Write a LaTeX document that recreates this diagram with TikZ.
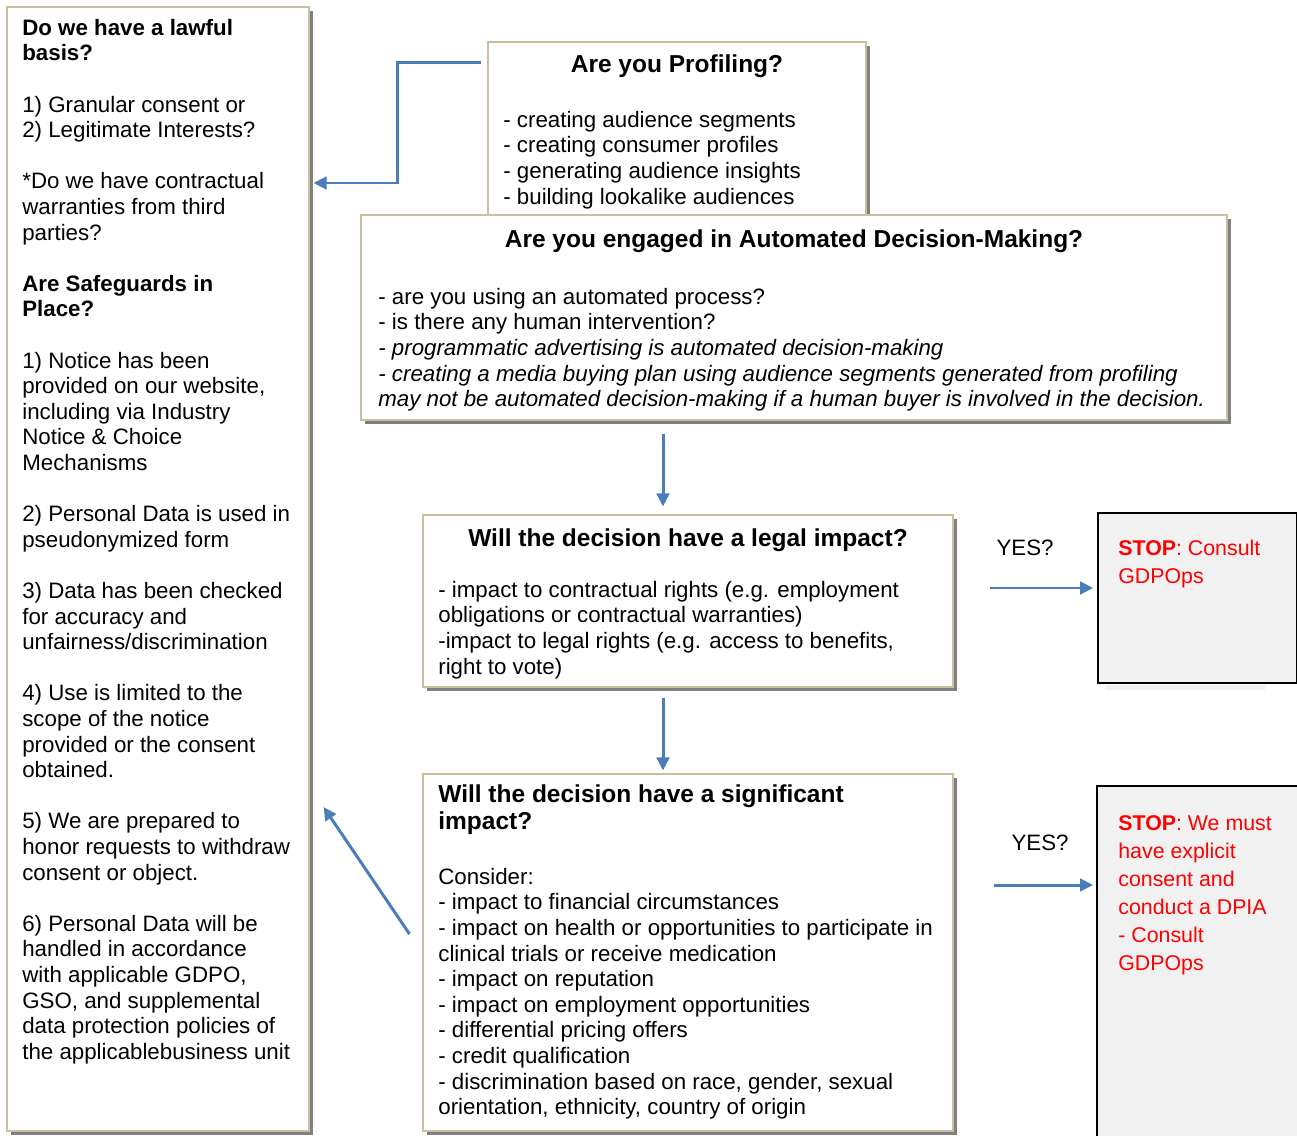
\documentclass[tikz,border=0pt]{standalone}
\usepackage{fontspec}
\setmainfont{Liberation Sans}
\usetikzlibrary{arrows.meta,fit,shadows}
\definecolor{boxline}{RGB}{201,193,158}
\definecolor{shade}{RGB}{128,128,128}
\definecolor{flowblue}{RGB}{74,126,187}
\definecolor{stopfill}{RGB}{241,241,241}
\newcommand\bodysize{\fontsize{12.69pt}{14.57pt}\selectfont}
\newcommand\headsize{\fontsize{13.94pt}{15.4pt}\selectfont}
\newcommand\stopsize{\fontsize{12.15pt}{16pt}\selectfont}
\tikzset{
  box/.style={draw=boxline, fill=white, line width=0.6pt, inner sep=0pt,
    drop shadow={shadow xshift=0.08cm, shadow yshift=-0.08cm, opacity=1, fill=shade}},
  stopbox/.style={draw=black, fill=stopfill, line width=1pt, inner sep=0pt},
  txt/.style={font=\bodysize, align=left, inner sep=0pt, anchor=north west},
  head/.style={font=\headsize\bfseries, inner sep=0pt, anchor=base},
  stoptxt/.style={txt, font=\stopsize, text=red},
  flow/.style={draw=flowblue, line width=1.7pt, -{Triangle[length=0.26cm,width=0.25cm]}}
}
\begin{document}
\begin{tikzpicture}[x=0.02cm, y=-0.02cm]
    \useasboundingbox (0,0) rectangle (1297,1135);

    \node[box, fit={(7,7) (309,1131)}]      (law) {};
    \node[box, fit={(488,42) (866,260)}]    (prof) {};
    \node[box, fit={(361,215) (1227,420)}]  (adm) {};
    \node[box, fit={(423,515) (953,687)}]   (legal) {};
    \node[box, fit={(423,774) (953,1131)}]  (sig) {};
    \fill[stopfill] (1105,685) rectangle (1265,690);
    \node[stopbox, fit={(1098,513) (1297,683)}] (stopa) {};
    \node[stopbox, fit={(1097,786) (1299,1145)}] (stopb) {};

    \node[txt] (lawtxt) at (22,17) {\strut\textbf{Do we have a lawful}\\\textbf{basis?}\\[\baselineskip]
        1) Granular consent or\\2) Legitimate Interests?\\[\baselineskip]
        *Do we have contractual\\warranties from third\\parties?\\[\baselineskip]
        \textbf{Are Safeguards in}\\\textbf{Place?}\\[\baselineskip]
        1) Notice has been\\provided on our website,\\including via Industry\\Notice \& Choice\\Mechanisms\\[\baselineskip]
        2) Personal Data is used in\\pseudonymized form\\[\baselineskip]
        3) Data has been checked\\for accuracy and\\unfairness/discrimination\\[\baselineskip]
        4) Use is limited to the\\scope of the notice\\provided or the consent\\obtained.\\[\baselineskip]
        5) We are prepared to\\honor requests to withdraw\\consent or object.\\[\baselineskip]
        6) Personal Data will be\\handled in accordance\\with applicable GDPO,\\GSO, and supplemental\\data protection policies of\\the applicablebusiness unit};

    \node[head] (proftitle) at (677,73) {Are you Profiling?};
    \node[txt] (proftxt) at (503,109) {\strut- creating audience segments\\- creating consumer profiles\\
        - generating audience insights\\- building lookalike audiences};

    \node[head] (admtitle) at (794,247) {Are you engaged in Automated Decision-Making?};
    \node[txt] (admtxt) at (378,286) {\strut- are you using an automated process?\\- is there any human intervention?\\
        \textit{- programmatic advertising is automated decision-making}\\
        \textit{- creating a media buying plan using audience segments generated from profiling}\\
        \textit{may not be automated decision-making if a human buyer is involved in the decision.}};

    \node[head] (legaltitle) at (688,546) {Will the decision have a legal impact?};
    \node[txt] (legaltxt) at (438,579) {\strut- impact to contractual rights (e.g. employment\\
        obligations or contractual warranties)\\-impact to legal rights (e.g. access to benefits,\\right to vote)};

    \node[txt, font=\headsize\bfseries] (sigtitle) at (438,783) {\strut Will the decision have a significant\\impact?};
    \node[txt] (sigtxt) at (438,866) {\strut Consider:\\- impact to financial circumstances\\
        - impact on health or opportunities to participate in\\clinical trials or receive medication\\
        - impact on reputation\\- impact on employment opportunities\\- differential pricing offers\\
        - credit qualification\\- discrimination based on race, gender, sexual\\orientation, ethnicity, country of origin};

    \node[stoptxt] (stopatxt) at (1118,535) {\strut\textbf{STOP}: Consult\\GDPOps};
    \node[stoptxt] (stopbtxt) at (1118,810) {\strut\textbf{STOP}: We must\\have explicit\\consent and\\conduct a DPIA\\- Consult\\GDPOps};

    \node[font=\bodysize, inner sep=0pt, anchor=base] (yesa) at (1025,555) {YES?};
    \node[font=\bodysize, inner sep=0pt, anchor=base] (yesb) at (1040,850) {YES?};

    \coordinate (bend) at (397,183);
    \coordinate (lawin) at ([shift={(4,0)}]law.east);
    \coordinate (mid) at (663,0);
    \draw[flow] ([shift={(-6,21)}]prof.north west) -| (bend) -- (bend -| lawin);
    \draw[flow, shorten <=0.26cm, shorten >=0.16cm] (adm.south -| mid) -- (legal.north -| mid);
    \draw[flow, shorten <=0.2cm, shorten >=0.06cm] (legal.south -| mid) -- (sig.north -| mid);
    \draw[flow] ([shift={(36,-13)}]legal.east) -- ([shift={(-4,-10)}]stopa.west);
    \draw[flow] ([shift={(40,-67.5)}]sig.east) -- ([shift={(-3,-80.5)}]stopb.west);
    \draw[flow] ([shift={(-13,-18.5)}]sig.west) -- ([shift={(14,238)}]law.east);
\end{tikzpicture}
\end{document}
